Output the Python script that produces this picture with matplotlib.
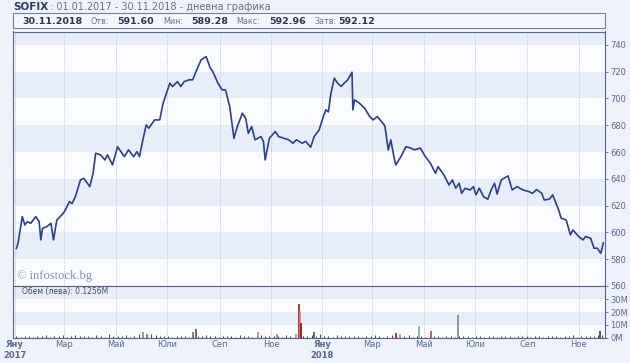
import matplotlib
matplotlib.use('Agg')
import matplotlib.pyplot as plt
from matplotlib.patches import Rectangle
import numpy as np
import pandas as pd

# SOFIX closing values
price_dates = [
    '2017-01-03', '2017-01-05', '2017-01-10', '2017-01-13', '2017-01-16', '2017-01-20',
    '2017-01-26', '2017-01-30', '2017-02-01', '2017-02-03', '2017-02-08', '2017-02-13',
    '2017-02-16', '2017-02-20', '2017-02-24', '2017-03-01', '2017-03-07', '2017-03-10',
    '2017-03-14', '2017-03-20', '2017-03-24', '2017-03-31', '2017-04-04', '2017-04-07',
    '2017-04-13', '2017-04-18', '2017-04-21', '2017-04-27', '2017-05-03', '2017-05-11',
    '2017-05-16', '2017-05-22', '2017-05-26', '2017-05-29', '2017-06-02', '2017-06-06',
    '2017-06-09', '2017-06-16', '2017-06-22', '2017-06-26', '2017-06-30', '2017-07-04',
    '2017-07-07', '2017-07-13', '2017-07-17', '2017-07-21', '2017-07-27', '2017-07-31',
    '2017-08-04', '2017-08-10', '2017-08-16', '2017-08-21', '2017-08-24', '2017-08-30',
    '2017-09-04', '2017-09-08', '2017-09-13', '2017-09-18', '2017-09-22', '2017-09-28',
    '2017-10-02', '2017-10-05', '2017-10-09', '2017-10-13', '2017-10-20', '2017-10-23',
    '2017-10-25', '2017-10-30', '2017-11-06', '2017-11-10', '2017-11-16', '2017-11-22',
    '2017-11-27', '2017-12-01', '2017-12-08', '2017-12-12', '2017-12-18', '2017-12-22',
    '2017-12-28', '2018-01-02', '2018-01-05', '2018-01-08', '2018-01-11', '2018-01-15',
    '2018-01-19', '2018-01-23', '2018-01-26', '2018-01-31', '2018-02-05', '2018-02-06',
    '2018-02-08', '2018-02-14', '2018-02-20', '2018-02-26', '2018-03-02', '2018-03-07',
    '2018-03-12', '2018-03-16', '2018-03-20', '2018-03-23', '2018-03-27', '2018-03-29',
    '2018-04-04', '2018-04-10', '2018-04-16', '2018-04-20', '2018-04-27', '2018-05-03',
    '2018-05-09', '2018-05-15', '2018-05-18', '2018-05-25', '2018-05-31', '2018-06-04',
    '2018-06-08', '2018-06-12', '2018-06-15', '2018-06-19', '2018-06-25', '2018-06-29',
    '2018-07-02', '2018-07-06', '2018-07-11', '2018-07-16', '2018-07-20', '2018-07-24',
    '2018-07-27', '2018-08-01', '2018-08-09', '2018-08-14', '2018-08-20', '2018-08-23',
    '2018-08-27', '2018-09-03', '2018-09-07', '2018-09-12', '2018-09-18', '2018-09-21',
    '2018-09-27', '2018-10-01', '2018-10-08', '2018-10-11', '2018-10-17', '2018-10-22',
    '2018-10-25', '2018-11-01', '2018-11-06', '2018-11-09', '2018-11-15', '2018-11-19',
    '2018-11-23', '2018-11-27', '2018-11-30',
]
price_values = [
    588.0, 592.0, 611.8, 605.6, 608.0, 606.8,
    611.8, 608.0, 594.4, 603.0, 604.3, 606.8,
    594.4, 609.3, 611.8, 615.5, 623.0, 621.5,
    626.7, 639.2, 640.4, 634.2, 644.2, 659.1,
    657.8, 654.1, 657.9, 650.4, 664.0, 656.6,
    661.6, 656.6, 660.3, 656.6, 669.1, 680.3,
    677.8, 684.0, 684.0, 696.4, 703.9, 711.4,
    708.9, 712.6, 708.9, 712.6, 713.9, 713.9,
    720.0, 728.8, 731.3, 722.6, 720.0, 711.4,
    706.4, 706.4, 693.9, 670.3, 679.0, 689.0,
    685.0, 674.0, 679.0, 669.1, 671.6, 667.9,
    654.1, 670.3, 675.3, 671.6, 670.3, 669.1,
    666.6, 669.1, 666.6, 668.0, 663.6, 671.5,
    676.5, 686.5, 691.5, 690.0, 703.9, 715.1,
    711.4, 709.0, 711.0, 713.9, 719.6, 691.5,
    698.9, 696.4, 692.7, 686.5, 684.0, 686.5,
    682.8, 679.5, 661.6, 669.1, 655.4, 650.4,
    656.6, 664.0, 662.9, 661.6, 663.0, 656.6,
    651.6, 644.2, 649.1, 642.9, 635.4, 639.2,
    633.0, 636.7, 629.2, 632.9, 631.7, 634.2,
    628.0, 633.0, 626.7, 624.8, 631.7, 636.7,
    628.7, 639.2, 642.2, 631.7, 634.2, 633.0,
    631.7, 630.4, 629.2, 632.0, 629.2, 624.2,
    624.8, 628.0, 616.8, 610.6, 609.3, 598.1,
    601.8, 596.8, 594.4, 596.9, 595.6, 588.2,
    588.2, 584.4, 592.1,
]

# turnover (million leva), one bar every 5 days
vol_start = '2017-01-03'
vol_values = [
    1.2, 0.6, 0.9, 1.5, 0.7, 1.1, 0.8, 1.8, 0.6, 1.3,
    0.9, 1.6, 0.7, 1.2, 2.1, 0.8, 1.0, 1.4, 0.6, 1.9,
    1.1, 0.7, 2.4, 0.9, 1.3, 0.8, 1.7, 0.6, 1.0, 2.6,
    1.5, 2.8, 3.1, 2.2, 1.4, 0.9, 1.2, 0.7, 1.1, 0.8,
    1.3, 0.6, 1.6, 0.9, 1.0, 2.3, 0.8, 1.2, 0.7, 1.5,
    0.9, 1.1, 0.6, 1.8, 0.8, 1.3, 0.7, 1.0, 2.0, 0.9,
    1.2, 0.8, 1.5, 0.7, 2.2, 1.0, 0.6, 1.4, 0.9, 1.1,
    1.7, 0.8, 2.4, 1.0, 1.3, 0.7, 1.9, 1.1, 0.8, 1.2,
    0.9, 1.5, 0.7, 1.1, 0.8, 1.6, 1.0, 0.6, 1.3, 2.0,
    0.8, 1.2, 0.9, 1.7, 0.6, 1.1, 1.4, 0.7, 1.0, 0.8,
    1.3, 0.6, 0.9, 1.5, 0.7, 1.0, 0.8, 1.2, 0.6, 0.9,
    1.1, 0.7, 1.4, 0.8, 0.6, 1.0, 0.9, 1.3, 0.7, 1.1,
    0.8, 1.2, 0.6, 0.9, 1.5, 0.7, 1.0, 0.8, 1.3, 0.6,
    1.1, 0.9, 1.6, 0.7, 1.2, 0.8, 1.4, 1.0, 2.1, 1.8,
]

# the taller turnover days
spike_dates = ['2017-06-02', '2017-06-07', '2017-08-01', '2017-08-04', '2017-10-17',
               '2017-11-08', '2017-11-30', '2017-12-04', '2017-12-05', '2017-12-06',
               '2017-12-22', '2018-03-29', '2018-04-03', '2018-04-25', '2018-05-10',
               '2018-06-11', '2018-11-26']
spike_values = [4.0, 3.0, 4.0, 7.0, 4.0, 3.0, 3.0, 26.0, 20.6, 11.3,
                4.0, 3.5, 3.0, 9.0, 5.0, 17.7, 5.5]
spike_colors = ['#6a9a5a', '#6a9a5a', '#7a7040', '#4a5030', '#d08080',
                '#c07070', '#8a9a7a', '#a01818', '#d88080', '#900a0a',
                '#505040', '#a02020', '#d89090', '#88aa78', '#c04040',
                '#6a9a6a', '#404040']

price_ticks = [560, 580, 600, 620, 640, 660, 680, 700, 720, 740]
vol_ticks = [0, 10, 20, 30]
vol_tick_labels = ['0M', '10M', '20M', '30M']
month_names = ['Яну', 'Мар', 'Май', 'Юли', 'Сеп', 'Ное'] * 2
month_ticks = pd.date_range('2017-01-01', '2018-11-01', freq='2MS')

W, H = 630, 363
bg = '#eef2fa'
band = '#e8eef9'
frame = '#56658a'
tick_col = '#5a6890'
navy = '#2b3f8c'


def fx(x):
    return x / W


def fy(y):
    return 1 - y / H


fig = plt.figure(figsize=(W / 100, H / 100), dpi=100, facecolor=bg)
ax = fig.add_axes([fx(13), fy(286), fx(605) - fx(13), fy(31.5) - fy(286)])
axv = fig.add_axes([fx(13), fy(337.5), fx(605) - fx(13), fy(286) - fy(337.5)], sharex=ax)

pdates = pd.to_datetime(price_dates)
vdates = pd.date_range(vol_start, periods=len(vol_values), freq='5D')
sdates = pd.to_datetime(spike_dates)

# price panel
ax.set_facecolor('#fbfcff')
for lo in [580, 620, 660, 700, 740]:
    ax.axhspan(lo, lo + 20, color=band, lw=0, zorder=0)
ax.plot(pdates, price_values, color=navy, lw=1.2, zorder=3)
ax.set_ylim(560, 750)
ax.set_yticks(price_ticks)
ax.yaxis.tick_right()

# volume panel
axv.set_facecolor('#fbfcff')
for lo in [10, 30]:
    axv.axhspan(lo, lo + 10, color=band, lw=0, zorder=0)
axv.vlines(vdates, 0, vol_values, color='#4e4e40', lw=0.8, zorder=3)
axv.vlines(sdates, 0, spike_values, colors=spike_colors, lw=1.2, zorder=4)
axv.set_ylim(0, 40.5)
axv.set_yticks(vol_ticks)
axv.set_yticklabels(vol_tick_labels)
axv.yaxis.tick_right()

axv.set_xlim(pd.Timestamp('2016-12-30'), pd.Timestamp('2018-12-02'))
axv.set_xticks(month_ticks)
labels = []
for d, n in zip(month_ticks, month_names):
    labels.append(n + '\n' + str(d.year) if d.month == 1 else n)
axv.set_xticklabels(labels)
for lbl, d in zip(axv.get_xticklabels(), month_ticks):
    if d.month == 1:
        lbl.set_fontweight('bold')
        lbl.set_color('#2d3b6b')

for a in (ax, axv):
    a.grid(axis='x', color='#b8c2da', ls=(0, (1.5, 1.5)), lw=0.6)
    a.set_axisbelow(False)
    for s in a.spines.values():
        s.set_color(frame)
        s.set_linewidth(0.8)
    a.tick_params(axis='y', which='both', length=2.5, width=0.6, color=frame,
                  labelsize=6, labelcolor=tick_col, pad=1.5)
    a.tick_params(axis='x', length=0, labelsize=6, labelcolor=tick_col, pad=2)
ax.tick_params(axis='x', labelbottom=False)
for gl in ax.get_xgridlines() + axv.get_xgridlines():
    gl.set_zorder(1)

ax.text(0.006, 0.04, '© infostock.bg', transform=ax.transAxes, fontsize=9,
        family='Liberation Serif', color='#8090b0', va='center', ha='left', zorder=5)
axv.text(fx(22 - 13) / (fx(605) - fx(13)), 0.9, 'Обем (лева): 0.1256M', transform=axv.transAxes,
         fontsize=5.5, color='#404860', va='center', ha='left', zorder=5)

# title and summary box
fig.text(fx(13), fy(7.5), 'SOFIX', fontsize=7.5, weight='bold', color='#2d3b6b', va='center')
fig.text(fx(49.5), fy(7.5), ': 01.01.2017 - 30.11.2018 - дневна графика', fontsize=7,
         color='#6a7080', va='center')
fig.patches.append(Rectangle((fx(13), fy(28)), fx(605) - fx(13), fy(13.5) - fy(28),
                             transform=fig.transFigure, facecolor='#f4f6fc',
                             edgecolor='#6f7fa0', lw=0.8))
summary = [(22, '30.11.2018', True), (91, 'Отв:', False), (117, '591.60', True),
           (163, 'Мин:', False), (191, '589.28', True), (236, 'Макс:', False),
           (269, '592.96', True), (315, 'Затв:', False), (338, '592.12', True)]
for x, s, b in summary:
    fig.text(fx(x), fy(21), s, fontsize=6.8 if b else 5.8,
             weight='bold' if b else 'normal',
             color='#2b3550' if b else '#6a7488', va='center')

fig.savefig('out.png', dpi=100, facecolor=bg)
